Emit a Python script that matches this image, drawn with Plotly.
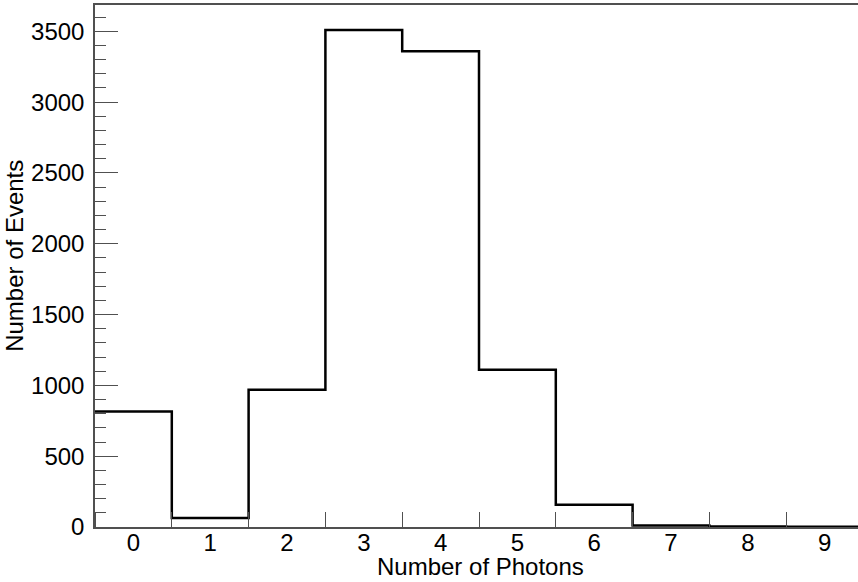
import numpy as np
import plotly.graph_objects as go

# Data
photons = [0, 1, 2, 3, 4, 5, 6, 7, 8, 9]
events = [815, 63, 970, 3510, 3360, 1110, 157, 11, 3, 1]
y_tick_vals = [0, 500, 1000, 1500, 2000, 2500, 3000, 3500]
x_tick_labels = [str(p) for p in photons]
x_title = "Number of Photons"
y_title = "Number of Events"

centers = np.array(photons, dtype=float)
edges = np.concatenate([centers - 0.5, [centers[-1] + 0.5]])
step_y = events + [events[-1]]

FONT = "Liberation Sans, Arial, sans-serif"
AXIS_COLOR = "#505050"
FS = 24

fig = go.Figure()
fig.add_trace(go.Scatter(
    x=edges, y=step_y, mode="lines", line=dict(shape="hv", color="black", width=2.5),
    showlegend=False, hoverinfo="skip", cliponaxis=True,
))

fig.update_layout(
    width=858, height=582,
    margin=dict(l=95, r=0, t=5, b=55),
    paper_bgcolor="white", plot_bgcolor="white",
    font=dict(family=FONT, size=FS, color="black"),
    showlegend=False,
)

fig.update_xaxes(
    range=[-0.5, -0.5 + 763 / 76.8],
    tickmode="array", tickvals=centers.tolist(), ticktext=x_tick_labels,
    ticks="", showgrid=False, zeroline=False,
    showline=True, linecolor=AXIS_COLOR, linewidth=1.5, mirror=True,
    tickfont=dict(size=FS), ticklabelstandoff=-7,
    minor=dict(tickmode="array", tickvals=edges.tolist(), ticks="inside", ticklen=15,
               tickcolor=AXIS_COLOR, tickwidth=1.2, showgrid=False),
)

fig.update_yaxes(
    range=[0, 3686],
    tickmode="array", tickvals=y_tick_vals,
    ticks="inside", ticklen=23, tickcolor=AXIS_COLOR, tickwidth=1.2,
    showgrid=False, zeroline=False,
    showline=True, linecolor=AXIS_COLOR, linewidth=1.5, mirror=False,
    tickfont=dict(size=FS), ticklabelstandoff=4,
    minor=dict(dtick=100, tick0=0, ticks="inside", ticklen=11, tickcolor=AXIS_COLOR,
               tickwidth=1.2, showgrid=False),
)

fig.add_annotation(
    text=x_title, xref="paper", yref="paper", x=0.5047, y=-0.0766,
    xanchor="center", yanchor="middle", showarrow=False, font=dict(size=FS),
)
fig.add_annotation(
    text=y_title, xref="paper", yref="paper", x=-95 / 763 + 15 / 763, y=0.5195,
    xanchor="center", yanchor="middle", textangle=-90, showarrow=False, font=dict(size=FS),
)

fig.write_html("out.html")
